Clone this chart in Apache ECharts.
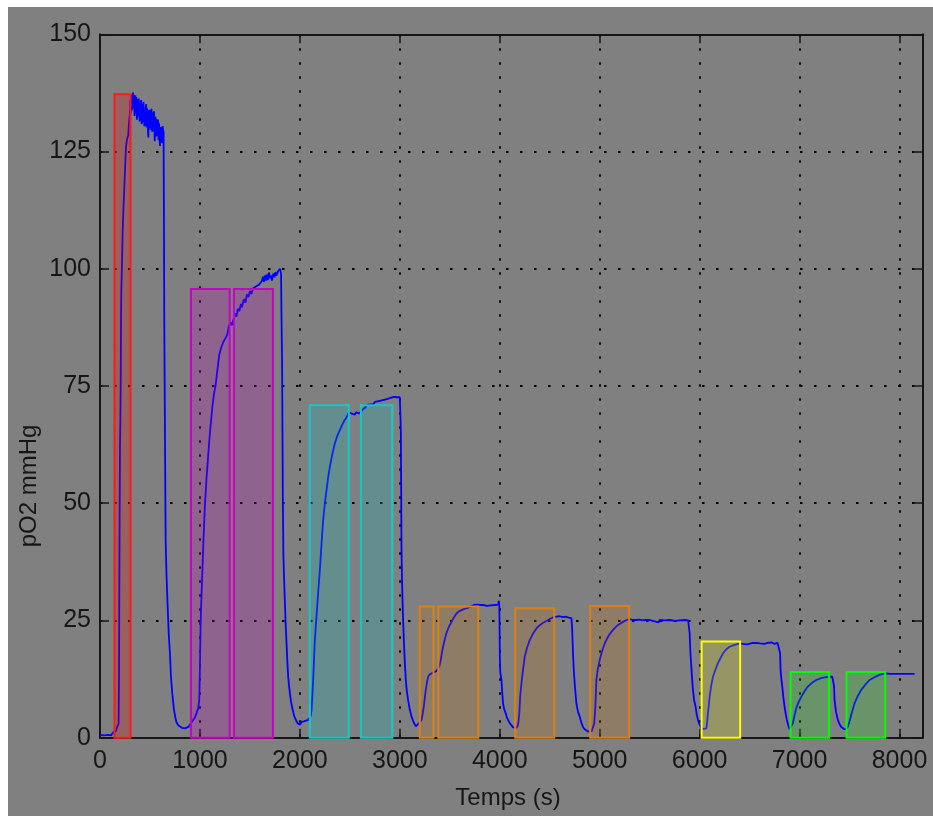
<!DOCTYPE html>
<html>
<head>
<meta charset="utf-8">
<title>pO2</title>
<script src="https://cdn.jsdelivr.net/npm/echarts@6.0.0/dist/echarts.min.js"></script>
<style>
  html, body { margin: 0; padding: 0; background: #ffffff; }
  #chart { position: absolute; left: 8px; top: 7px; width: 925px; height: 809px; }
</style>
</head>
<body>
<div id="chart"></div>
<script>
// Tick labels of both axes
const xTicks = [0, 1000, 2000, 3000, 4000, 5000, 6000, 7000, 8000];
const yTicks = [0, 25, 50, 75, 100, 125, 150];
const tMax = 8230;

// Measured oxygen partial pressure: [time (s), pO2 (mmHg)]
const po2Trace = [
  [0,0.6],[40,0.5],[80,0.6],[110,0.5],[130,0.7],[135,1.2],[160,1.4],[170,2.2],[180,2.6],[186,3],
  [190,12],[193,30],[196,45],[200,62],[204,68],[207,75],[210,88],[213,95],[220,101],[227,108],
  [235,113],[243,117],[250,121],[260,126],[270,127.5],[283,128.5],[290,131],[298,133],
  [300,133.5],[303,136],[306,135.5],[309,133.2],[312,134.2],[315,137.2],[318,136.8],[321,133.8],
  [324,134.5],[327,136.2],[330,137.6],[333,134.2],[336,135],[339,137.1],[342,136.4],[345,132.6],
  [348,133.6],[351,135.8],[354,137],[357,133.2],[360,134.4],[363,136.6],[366,135.9],[369,131.8],
  [372,132.8],[375,135.4],[378,136.2],[381,132.5],[384,134.1],[387,136.3],[390,135.6],[393,133.4],
  [396,131.4],[399,133.8],[402,134.9],[405,131.6],[408,133.1],[411,136],[414,135.7],[417,130.8],
  [420,132.3],[423,135.2],[426,134.7],[429,131.2],[432,133.7],[435,135.6],[438,135.3],[441,132.2],
  [444,130.4],[447,133.3],[450,134.2],[453,130.6],[456,132.7],[459,134.6],[462,135.1],[465,130.2],
  [468,131.5],[471,134.2],[474,133.6],[477,131.3],[480,129.5],[484,128],
  [488,132.6],[491,133.9],[494,134.2],[497,129.9],[500,130.2],[503,133.8],[506,133.4],[509,129.6],
  [512,131.3],[515,134.1],[518,133.7],[521,129.2],[524,130.5],[527,133.3],[530,132.9],[533,129.4],
  [536,130.9],[539,133.6],[542,133.1],[545,129.6],[548,127.2],[552,129.8],[555,132.4],
  [558,132],[561,128.2],[564,129],[567,131.9],[570,131.4],[573,128.4],[576,129.7],[579,131.8],
  [582,131.3],[585,127.4],[588,128.3],[591,131],[594,130.6],[597,127.6],[600,126.2],[603,129.2],
  [606,130.2],[609,127.1],[612,127.8],[615,130.3],[618,129.6],[621,126.8],[624,128],[627,130.4],
  [630,129.9],[633,128.2],[636,129.4],
  [640,110],[643,90],[647,76],[652,58],[657,42],[665,35],[677,28],[688,22],[700,18],[710,13],
  [723,9.5],[740,6],[755,4.2],[767,3.2],[785,2.6],[800,2.3],[820,2.1],[850,2.0],[870,2.2],[885,2.3],
  [900,2.5],[920,3.4],[935,3.8],[950,4.3],[967,5.3],[983,6.3],[993,8],[1000,15],[1005,22],[1010,27],
  [1017,31],[1023,34.7],[1035,42],[1050,49.6],[1065,55],[1083,60.3],[1100,65],[1113,68],[1127,71],
  [1142,73.5],[1157,75.2],[1175,78.5],[1193,81.6],[1210,83],[1230,84.2],[1250,85],[1273,85.9],
  [1285,86.2],[1290,87.8],
  [1300,87.5],[1310,88.5],[1320,88],[1340,89.5],[1355,90.5],[1365,89.8],[1380,91.5],[1395,91],
  [1410,92.5],[1420,91.8],[1440,93.5],[1455,92.8],[1470,94.5],[1485,94],[1500,95.2],[1515,94.6],
  [1530,95.8],[1545,95.5],[1560,96.2],[1575,95.9],[1590,96.6],[1605,96.3],[1620,97.4],[1630,98.3],
  [1640,97.2],[1650,98.6],[1660,97.5],[1670,98.8],[1680,97.6],[1690,99.2],[1700,98],[1710,98.6],
  [1720,97.5],[1735,99],[1745,98.2],[1755,99.3],[1765,98.5],[1780,99.4],[1790,99],[1800,100],
  [1808,99.4],
  [1812,98.5],[1816,90],[1822,80],[1826,65],[1830,50],[1835,39],[1842,34],[1850,29],[1858,24],
  [1867,20],[1875,16],[1883,13],[1892,11],[1900,9.5],[1913,7.5],[1927,6],[1945,4.5],[1967,3.5],
  [1980,3],[1993,2.6],[2003,2.8],[2017,3.4],[2040,3.5],[2060,3.6],[2083,3.8],[2100,4.3],[2110,4.8],
  [2117,6],[2125,9],[2133,12.3],[2142,17],[2150,20.8],[2160,24],[2173,27.9],[2185,31.5],[2200,35.8],
  [2217,41.5],[2233,46.4],[2250,50],[2267,52.8],[2283,55.5],[2300,57.8],[2325,60.5],[2350,62.8],
  [2375,64.4],[2400,65.6],[2425,66.8],[2450,67.8],[2467,68.3],[2483,68.6],
  [2490,69.4],[2500,69],[2510,69.6],[2520,69.1],[2535,69.5],[2550,68.9],[2565,69.4],[2580,69.6],
  [2595,69.1],[2605,68.7],[2615,69.3],[2625,69.9],[2640,70.2],[2655,70.4],[2665,70.9],[2680,70.7],
  [2700,71.1],[2720,71.3],[2735,71.1],[2750,71.6],[2770,71.5],[2790,71.8],[2810,71.7],[2830,72],
  [2850,71.9],[2870,72.2],[2885,72.1],[2900,72.4],[2920,72.5],[2940,72.7],[2955,72.3],[2970,72.6],
  [2985,72.4],[3000,72.6],[3007,72.4],
  [3010,66],[3013,55],[3017,40],[3022,33.6],[3030,27],[3040,21],[3050,16],[3060,12.3],[3070,10],
  [3083,8],[3100,6],[3117,4.5],[3140,3.2],[3160,2.4],[3173,2.3],[3193,3.1],[3205,3.5],[3217,3.8],
  [3228,5],[3240,6.6],[3250,8.5],[3260,10.2],[3272,11.8],[3283,13],[3300,13.5],[3317,13.7],
  [3335,13.9],[3350,14.1],[3365,14.2],[3383,14.4],[3395,15.2],[3410,16.6],[3420,18],[3433,19.4],
  [3450,21],[3467,22.3],[3490,23.6],[3517,24.7],[3540,25.6],[3567,26.5],[3590,26.9],[3617,27.2],
  [3650,27.5],[3683,27.7],[3710,28],[3740,28.3],[3760,28.2],[3775,28.4],[3790,28.1],[3805,28.3],
  [3820,28],[3835,28.3],[3850,28.4],[3870,28.1],[3890,28.3],[3910,28.2],[3930,28.4],[3950,28.3],
  [3970,28.2],[3985,28.4],[3990,29.2],[3995,28.6],
  [3998,24],[4001,17.3],[4005,14],[4017,12.3],[4025,9.5],[4033,7.3],[4045,6],[4060,5.2],[4070,4.4],
  [4083,3.8],[4100,3.1],[4117,2.7],[4133,2.2],[4150,2.0],[4167,2.1],[4183,2.7],[4195,5],[4205,9],
  [4217,11.5],[4230,14],[4250,17.3],[4275,19.3],[4300,20.8],[4333,22.2],[4367,23.3],[4400,24],
  [4433,24.5],[4467,24.9],[4500,25.3],[4520,25.4],[4540,25.7],[4567,25.8],[4600,25.9],[4633,25.7],
  [4660,25.8],[4690,25.6],[4717,25.5],
  [4725,23],[4733,18],[4742,14],[4750,11.5],[4767,7.3],[4783,5.5],[4800,4.5],[4817,3.2],[4833,2.3],
  [4850,1.8],[4867,1.4],[4883,1.3],[4900,1.3],[4920,1.4],[4933,1.8],[4945,3],[4955,6],[4962,9.5],
  [4967,12.3],[4980,14.5],[5000,16.6],[5025,18.5],[5050,20.1],[5090,21.8],[5133,23],[5180,24],
  [5233,24.7],[5270,25.1],[5300,25.3],[5330,25.1],[5367,25.1],[5400,25.2],[5430,25],[5450,24.7],
  [5460,25.1],[5500,25.1],[5530,24.9],[5550,25.2],[5590,24.6],[5600,25.1],[5650,25],[5700,25.1],
  [5750,24.9],[5800,25],[5850,25.1],[5885,25],[5893,24.6],
  [5900,22.3],[5908,18],[5917,15.1],[5925,12.5],[5933,10.2],[5945,8],[5960,6.6],[5970,5],[5983,3.8],
  [6000,2.8],[6017,2.0],[6040,1.9],[6067,2.0],[6075,3.2],[6083,5.2],[6092,7],[6100,8.7],[6115,11],
  [6133,13],[6160,14.6],[6183,15.9],[6210,17],[6233,18],[6265,18.8],[6300,19.4],[6350,19.8],
  [6400,20.1],[6430,20.0],[6450,20.3],[6480,19.9],[6500,20.1],[6530,20.2],[6550,19.9],[6570,20.2],
  [6600,20.1],[6620,20.3],[6650,20],[6680,20.2],[6700,20.1],[6720,20.3],[6750,20],[6780,20.2],
  [6800,20.1],
  [6805,18],[6810,14.4],[6818,12.5],[6827,10.9],[6838,8.5],[6850,6.6],[6862,5],[6873,3.8],[6887,2.6],
  [6900,1.8],[6915,2.2],[6933,3.1],[6950,4.8],[6967,6.3],[6990,7.6],[7017,8.7],[7050,9.9],[7083,10.9],
  [7125,11.7],[7167,12.3],[7215,12.7],[7267,12.9],[7300,13],[7327,13],[7340,13.3],
  [7345,11],[7350,8],[7365,5.5],[7383,3.8],[7400,2.9],[7417,2.3],[7440,1.9],[7467,1.8],[7483,2.4],
  [7500,3.5],[7525,5.5],[7550,7.3],[7583,8.9],[7617,10.2],[7658,11.3],[7700,12.3],[7750,12.9],
  [7800,13.4],[7833,13.6],[7867,13.7],[7900,13.6],[8000,13.6],[8150,13.6]
];

// Analysis windows: start (s), end (s), level (mmHg), gas step
const winStart = [145, 910, 1340, 2100, 2610, 3200, 3385, 4155, 4905, 6020, 6910, 7470];
const winEnd   = [305, 1298, 1730, 2490, 2925, 3337, 3785, 4545, 5295, 6405, 7295, 7857];
const winLevel = [137.2, 95.7, 95.7, 70.9, 70.9, 28.0, 28.0, 27.6, 28.1, 20.5, 14.0, 14.0];
const winStep  = [0, 1, 1, 2, 2, 3, 3, 3, 3, 4, 5, 5];

// Colours for each gas step
const stepStroke = ['#ff1a1a', '#c800c8', '#14c8c8', '#de8010', '#ffff00', '#00ff00'];
const stepFill = [
  'rgba(230,0,0,0.24)', 'rgba(190,0,190,0.22)', 'rgba(0,190,190,0.22)',
  'rgba(205,110,0,0.2)', 'rgba(235,235,0,0.2)', 'rgba(0,240,0,0.18)'
];

const FONT = '"Liberation Sans", Arial, Helvetica, sans-serif';
const INK = '#161616';

const chart = echarts.init(document.getElementById('chart'), null, { renderer: 'canvas' });

const tickLabel = (list) => (v) => (list.indexOf(v) >= 0 ? String(v) : '');

const dotted = { color: '#000', type: [2.5, 11.5], width: 1.8 };

chart.setOption({
  animation: false,
  backgroundColor: '#808080',
  grid: { left: 92, right: 10.5, top: 27.3, bottom: 78.3, containLabel: false },
  xAxis: [
    {
      type: 'value', min: 0, max: tMax, interval: 1000, position: 'bottom',
      axisLine: { show: true, onZero: false, lineStyle: { color: INK, width: 2 } },
      axisTick: { show: true, inside: true, length: 9, lineStyle: { color: INK, width: 1.5 } },
      axisLabel: { margin: 11, fontFamily: FONT, fontSize: 25, color: INK,
                   showMaxLabel: false, formatter: tickLabel(xTicks) },
      splitLine: { show: true, lineStyle: dotted }
    },
    {
      type: 'value', min: 0, max: tMax, interval: 1000, position: 'top',
      axisLine: { show: true, onZero: false, lineStyle: { color: INK, width: 2 } },
      axisTick: { show: true, inside: true, length: 9, lineStyle: { color: INK, width: 1.5 } },
      axisLabel: { show: false },
      splitLine: { show: false }
    }
  ],
  yAxis: [
    {
      type: 'value', min: 0, max: 150, interval: 25, position: 'left',
      axisLine: { show: true, onZero: false, lineStyle: { color: INK, width: 2 } },
      axisTick: { show: true, inside: true, length: 9, lineStyle: { color: INK, width: 1.5 } },
      axisLabel: { margin: 9, fontFamily: FONT, fontSize: 25, color: INK, formatter: tickLabel(yTicks) },
      splitLine: { show: true, lineStyle: dotted }
    },
    {
      type: 'value', min: 0, max: 150, interval: 25, position: 'right',
      axisLine: { show: true, onZero: false, lineStyle: { color: INK, width: 2 } },
      axisTick: { show: true, inside: true, length: 9, lineStyle: { color: INK, width: 1.5 } },
      axisLabel: { show: false },
      splitLine: { show: false }
    }
  ],
  graphic: [
    {
      type: 'text', x: 21, y: 479, rotation: Math.PI / 2,
      style: { text: 'pO2 mmHg', fontFamily: FONT, fontSize: 24, fill: INK,
               align: 'center', verticalAlign: 'middle' }
    },
    {
      type: 'text', x: 500, y: 791,
      style: { text: 'Temps (s)', fontFamily: FONT, fontSize: 24, fill: INK,
               align: 'center', verticalAlign: 'middle' }
    }
  ],
  series: [
    {
      type: 'line', xAxisIndex: 0, yAxisIndex: 0, z: 2,
      data: po2Trace, showSymbol: false, symbol: 'none',
      lineStyle: { color: '#0000ff', width: 1.8 }, clip: true
    },
    {
      type: 'custom', xAxisIndex: 0, yAxisIndex: 0, z: 5,
      data: winStart.map((s, i) => [s, winEnd[i], winLevel[i], winStep[i]]),
      encode: { x: [0, 1], y: 2 },
      renderItem: function (params, api) {
        const topLeft = api.coord([api.value(0), api.value(2)]);
        const bottomRight = api.coord([api.value(1), 0]);
        const s = api.value(3);
        return {
          type: 'rect',
          shape: { x: topLeft[0], y: topLeft[1],
                   width: bottomRight[0] - topLeft[0], height: bottomRight[1] - topLeft[1] },
          style: { fill: stepFill[s], stroke: stepStroke[s], lineWidth: 2 }
        };
      }
    }
  ]
});
</script>
</body>
</html>
